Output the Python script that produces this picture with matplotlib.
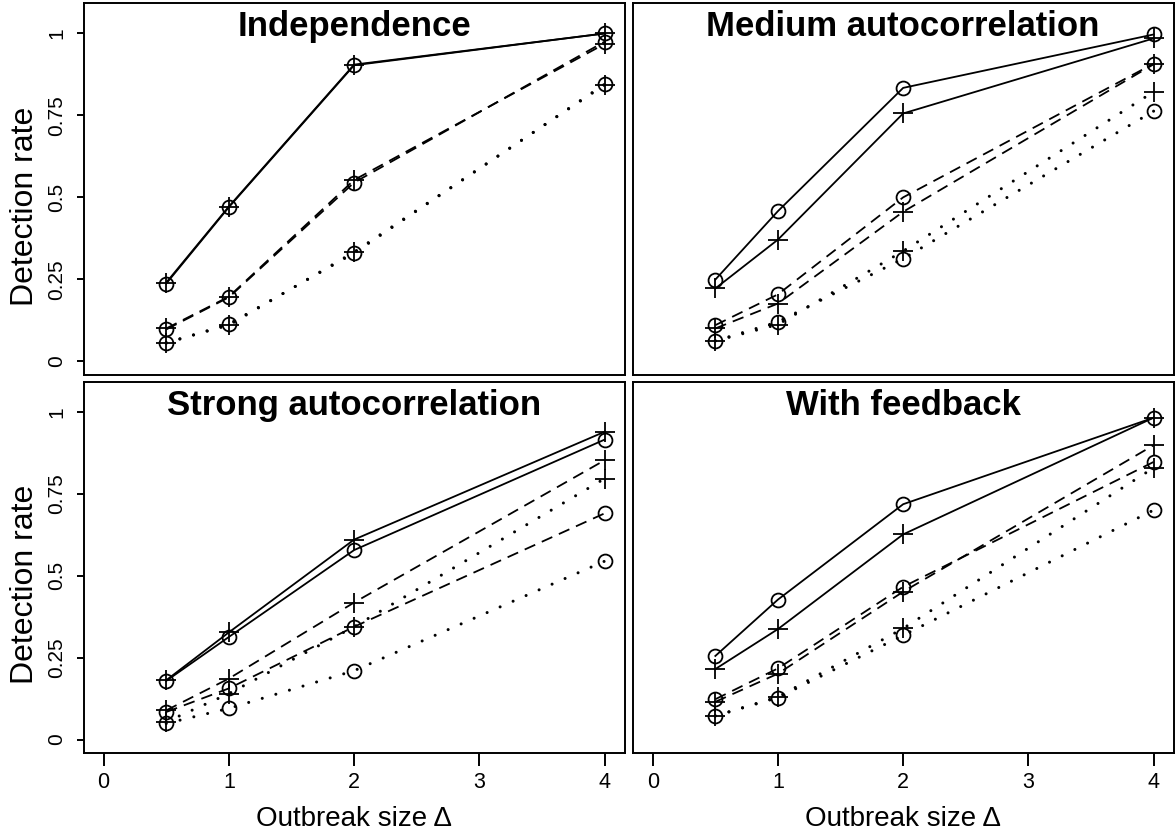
import numpy as np
import matplotlib
matplotlib.use("Agg")
import matplotlib.pyplot as plt

plt.rcParams['font.family'] = ['Liberation Sans', 'DejaVu Sans']
plt.rcParams['lines.scale_dashes'] = False

# outbreak sizes
delta = [0.5, 1, 2, 4]

# detection rates, rows = solid, dashed, dotted
indep_circ = [[0.237, 0.470, 0.903, 1.000],
              [0.097, 0.195, 0.545, 0.975],
              [0.055, 0.113, 0.330, 0.845]]
indep_plus = [[0.240, 0.472, 0.905, 1.000],
              [0.100, 0.197, 0.553, 0.968],
              [0.057, 0.110, 0.333, 0.843]]

medium_circ = [[0.249, 0.458, 0.834, 0.997],
               [0.110, 0.204, 0.500, 0.908],
               [0.062, 0.120, 0.313, 0.763]]
medium_plus = [[0.222, 0.371, 0.756, 0.985],
               [0.100, 0.176, 0.456, 0.906],
               [0.062, 0.112, 0.336, 0.822]]

strong_circ = [[0.179, 0.313, 0.578, 0.915],
               [0.084, 0.156, 0.344, 0.690],
               [0.049, 0.095, 0.210, 0.544]]
strong_plus = [[0.181, 0.327, 0.610, 0.939],
               [0.089, 0.186, 0.418, 0.852],
               [0.054, 0.140, 0.344, 0.796]]

feedback_circ = [[0.255, 0.427, 0.718, 0.982],
                 [0.123, 0.217, 0.466, 0.847],
                 [0.072, 0.128, 0.318, 0.700]]
feedback_plus = [[0.215, 0.337, 0.626, 0.982],
                 [0.115, 0.201, 0.451, 0.898],
                 [0.072, 0.130, 0.339, 0.829]]

titles = ["Independence", "Medium autocorrelation",
          "Strong autocorrelation", "With feedback"]
panels = [(indep_circ, indep_plus), (medium_circ, medium_plus),
          (strong_circ, strong_plus), (feedback_circ, feedback_plus)]

yticks = [0, 0.25, 0.5, 0.75, 1]
yticklabels = ["0", "0.25", "0.5", "0.75", "1"]
xticks = [0, 1, 2, 3, 4]

styles = [dict(linestyle='-', lw=1.3),
          dict(linestyle=(0, (8.3, 5.2)), lw=1.3, dash_capstyle='butt'),
          dict(linestyle=(0, (0.01, 10.2)), lw=2.2, dash_capstyle='round')]

fig = plt.figure(figsize=(11.76, 8.32), dpi=100)
lefts = [0.0711, 0.538]
bottoms = [0.5493, 0.0946]
w, h = 0.46, 0.4467

for k, (title, (circ, plus)) in enumerate(zip(titles, panels)):
    row, col = divmod(k, 2)
    ax = fig.add_axes([lefts[col], bottoms[row], w, h])
    for i in range(3):
        st = styles[i]
        for vals, mk, ms in [(circ[i], 'o', 10), (plus[i], '+', 14)]:
            ax.plot(delta, vals, color='black', linestyle=st['linestyle'],
                    lw=st['lw'], dash_capstyle=st.get('dash_capstyle', 'butt'))
            ax.plot(delta, vals, linestyle='none', marker=mk, ms=ms,
                    mfc='none', mec='black', mew=1.3)
    ax.set_xlim(-0.16, 4.16)
    ax.set_ylim(-0.042, 1.092)
    for sp in ax.spines.values():
        sp.set_linewidth(1.4)
    ax.text(0.5, 0.911, title, transform=ax.transAxes, ha='center',
            va='baseline', fontsize=25, fontweight='bold')

    if row == 1:
        ax.set_xticks(xticks)
        ax.set_xticklabels([str(t) for t in xticks])
        ax.tick_params(axis='x', length=9.4, width=1.4, pad=4, labelsize=15.5)
        ax.set_xlabel("Outbreak size \u0394", fontsize=20)
        ax.xaxis.set_label_coords(0.5, -0.196)
        ax.xaxis.label.set_va('baseline')
    else:
        ax.set_xticks([])

    if col == 0:
        ax.set_yticks(yticks)
        ax.set_yticklabels(yticklabels, rotation=90, va='center')
        ax.tick_params(axis='y', length=5, width=1.4, pad=7.6, labelsize=15)
        ax.set_ylabel("Detection rate", fontsize=23)
        ax.yaxis.set_label_coords(-0.0934, 0.455)
        ax.yaxis.label.set_va('baseline')
    else:
        ax.set_yticks([])

fig.savefig("out.png", dpi=100)
